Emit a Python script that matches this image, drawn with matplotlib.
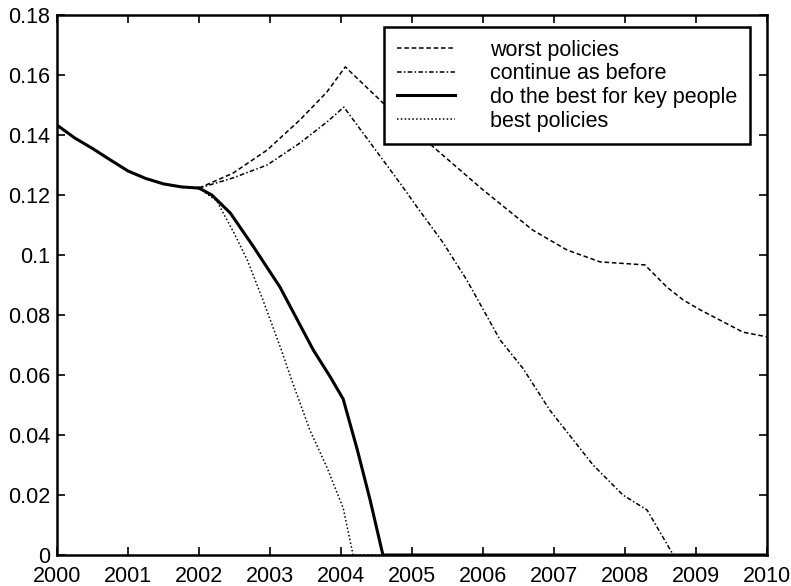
import matplotlib.pyplot as plt
from matplotlib.ticker import FormatStrFormatter

plt.rcParams['font.family'] = ['Liberation Sans', 'DejaVu Sans']

# shared history up to 2002
common_yr = [2000, 2000.25, 2000.5, 2000.75, 2001, 2001.25, 2001.5, 2001.75, 2002]
common_v = [0.1433, 0.139, 0.1355, 0.1317, 0.128, 0.1255, 0.1237, 0.1227, 0.1223]

worst_yr = [2002, 2002.48, 2002.96, 2003.42, 2003.8, 2004.06, 2004.59, 2005.3, 2006.0,
            2006.7, 2007.18, 2007.65, 2008.28, 2008.59, 2008.82, 2009.06, 2009.66, 2010]
worst_v = [0.1223, 0.1273, 0.135, 0.145, 0.1543, 0.1627, 0.1507, 0.136, 0.1217,
           0.1083, 0.1017, 0.0977, 0.0967, 0.0893, 0.085, 0.0817, 0.0743, 0.0727]

cont_yr = [2002, 2002.48, 2002.96, 2003.42, 2003.8, 2004.04, 2004.59, 2004.83, 2005.07,
           2005.44, 2005.77, 2006.24, 2006.56, 2006.94, 2007.55, 2007.97, 2008.31, 2008.68, 2010]
cont_v = [0.1223, 0.1257, 0.130, 0.1373, 0.1443, 0.1493, 0.1317, 0.124, 0.116,
          0.104, 0.0917, 0.0717, 0.0623, 0.0483, 0.030, 0.020, 0.015, 0.0, 0.0]

key_yr = [2002, 2002.18, 2002.44, 2002.76, 2003.14, 2003.61, 2003.85, 2004.03,
          2004.23, 2004.41, 2004.59, 2010]
key_v = [0.1223, 0.120, 0.114, 0.103, 0.0893, 0.0683, 0.0593, 0.052,
         0.035, 0.0183, 0.0, 0.0]

best_yr = [2002, 2002.25, 2002.5, 2002.68, 2002.9, 2003.16, 2003.32, 2003.56,
           2003.8, 2004.03, 2004.17, 2010]
best_v = [0.1223, 0.118, 0.107, 0.0983, 0.085, 0.0683, 0.0573, 0.0417,
          0.0293, 0.0157, 0.0, 0.0]

fig = plt.figure(figsize=(7.91, 5.86), dpi=100)
ax = fig.add_axes([0.0721, 0.0529, 0.8976, 0.9215])

ax.plot(worst_yr, worst_v, color='black', lw=1.1, linestyle=(0, (3, 1.8)),
        label='worst policies')
ax.plot(cont_yr, cont_v, color='black', lw=1.1, linestyle=(0, (3, 1.5, 1, 1.5)),
        label='continue as before')
ax.plot(key_yr, key_v, color='black', lw=2.2, label='do the best for key people')
ax.plot(best_yr, best_v, color='black', lw=1.1, linestyle=(0, (1, 1.5)),
        label='best policies')
ax.plot(common_yr, common_v, color='black', lw=2.2)

ax.set_xlim(2000, 2010)
ax.set_ylim(0, 0.18)
ax.set_xticks(range(2000, 2011))
ax.set_yticks([i * 0.02 for i in range(10)])
ax.yaxis.set_major_formatter(FormatStrFormatter('%g'))
ax.tick_params(direction='in', length=6, width=1.2, labelsize=15.5,
               top=True, right=True)
ax.tick_params(axis='x', pad=8)
ax.tick_params(axis='y', pad=5)
for s in ax.spines.values():
    s.set_linewidth(1.8)

leg = ax.legend(loc='upper right', bbox_to_anchor=(0.976, 0.978), fontsize=15.5,
                handlelength=2.7, handletextpad=1.6, labelspacing=0.12,
                borderpad=0.6, borderaxespad=0, fancybox=False, framealpha=1)
leg.get_frame().set_edgecolor('black')
leg.get_frame().set_linewidth(1.8)

fig.savefig('out.png', dpi=100)
